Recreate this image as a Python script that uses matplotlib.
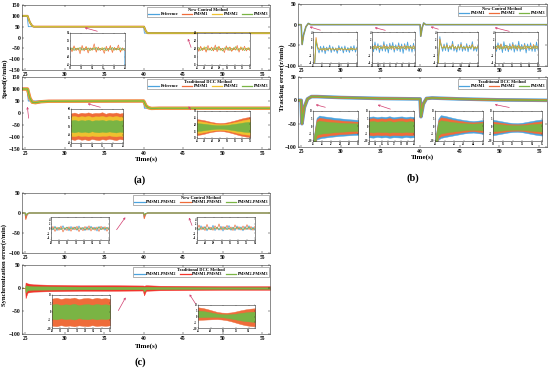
import numpy as np
import matplotlib
matplotlib.use('Agg')
import matplotlib.pyplot as plt

plt.rcParams['font.family'] = ['Liberation Serif', 'DejaVu Serif']
plt.rcParams['font.weight'] = 'bold'

W, H = 550, 374
BLUE = '#4ba3de'
ORANGE = '#ef6c3a'
YELLOW = '#efc12f'
GREEN = '#7ab444'
RED = '#f2352c'
ARROW = '#d23c6e'

# ---------------- main traces ----------------
# (a) speed, new method
a_ref_t = [24.6, 25.25, 25.4, 40.0, 40.1, 56.0]
a_ref_v = [100, 100, 50, 50, 20, 20]
a_new_t = [24.6, 25.3, 25.6, 25.9, 26.1, 40.05, 40.3, 40.5, 56.0]
a_new_v = [100, 100, 70, 53, 50, 50, 28, 20, 20]
# (a) speed, traditional DCC
a_trad_t = [24.6, 25.3, 25.6, 25.9, 26.3, 27.0, 28.0, 40.0, 40.3, 40.6, 41.0, 42.0, 56.0]
a_trad_v = [100, 100, 62, 45, 43, 47, 49, 50, 30, 22, 19, 20, 20]

# (b) tracking error, new method
b_new_t = [24.6, 25.0, 25.12, 25.3, 25.6, 25.9, 26.2, 40.0, 40.08, 40.25, 40.45, 40.7, 56.0]
b_new_v = [0, 0, -48, -25, -5, 3, 0, 0, -28, -8, 4, 0, 0]
# (b) tracking error, traditional DCC
b_trad_t = [24.6, 25.0, 25.1, 25.4, 25.8, 26.3, 27.0, 30, 35, 40.0, 40.1, 40.4, 40.8, 41.5, 45, 50, 56]
b_trad_v = [0, 0, -50, -15, 3, 8, 8, 6, 4, 3, -35, -8, 4, 5, 3, 1, 0]

# (c) synchronization error, new method
c_new_t = [24.6, 25.0, 25.08, 25.25, 25.5, 40.0, 40.08, 40.25, 40.5, 56.0]
c_new_12 = [0, 0, -12, -3, 0, 0, -10, -2, 0, 0]
c_new_13 = [0, 0, -16, -4, 0, 0, -14, -3, 0, 0]
c_new_23 = [0, 0, -6, -1, 0, 0, -5, -1, 0, 0]
# (c) synchronization error, traditional DCC (band envelopes)
c_trad_t = [24.6, 25.0, 25.05, 25.3, 26, 28, 32, 36, 39.9, 40.05, 40.3, 42, 46, 50, 56]
c_trad_red_hi = [0.5, 0.5, 12, 10, 8, 7, 6, 6, 5.5, 5, 6, 5, 4.5, 4, 4]
c_trad_red_lo = [-0.5, -0.5, -22, -10, -8, -7, -6, -6, -5.5, -16, -6, -5, -4.5, -4, -4]
c_trad_grn_hi = [0.3, 0.3, 6, 5, 4, 3.5, 3, 3, 2.8, 2.5, 3, 2.5, 2.2, 2, 2]
c_trad_grn_lo = [-0.3, -0.3, -10, -5, -4, -3.5, -3, -3, -2.8, -8, -3, -2.5, -2.2, -2, -2]

# ---------------- inset data ----------------
# (a) top inset 1 : t 30..40
a_in1_o = [50.4, 49.3, 50.8, 49.6, 50.2, 48.8, 50.9, 49.5, 50.6, 49.0, 50.3, 49.7, 51.3, 49.2, 50.5,
           49.6, 50.1, 48.9, 50.7, 49.4, 50.9, 49.1, 50.4, 49.8, 51.0, 49.2, 50.3, 49.6]
a_in1_y = [50.2, 49.6, 50.5, 49.8, 50.3, 49.4, 50.4, 49.9, 50.6, 49.5, 50.2, 49.7, 50.5, 49.6, 50.3,
           49.9, 50.4, 49.5, 50.2, 49.8, 50.5, 49.6, 50.3, 49.7, 50.4, 49.5, 50.2, 49.8]
a_in1_g = [49.8, 50.3, 49.6, 50.2, 49.9, 50.4, 49.7, 50.1, 49.8, 50.3, 49.6, 50.2, 49.9, 50.4, 49.7,
           50.2, 49.8, 50.3, 49.6, 50.1, 49.9, 50.4, 49.7, 50.2, 49.8, 50.3, 49.7, 50.1]
# (a) top inset 2 : t 46..53
a_in2_o = [20.5, 19.4, 20.7, 19.6, 20.3, 19.2, 20.9, 19.7, 20.4, 19.5, 21.0, 19.3, 20.6, 19.8, 20.2,
           19.1, 20.8, 19.6, 20.5, 19.4, 20.3, 19.7, 20.9, 19.2, 20.4, 19.6, 20.7, 19.5, 20.2, 19.6]
a_in2_y = [20.3, 19.7, 20.4, 19.8, 20.6, 19.5, 20.2, 19.9, 20.5, 19.6, 20.3, 19.8, 20.7, 19.6, 20.2,
           19.7, 20.4, 19.9, 20.5, 19.5, 20.3, 19.8, 20.4, 19.6, 20.6, 19.7, 20.2, 19.8, 20.4, 19.7]
a_in2_g = [19.8, 20.4, 19.6, 20.2, 19.9, 20.5, 19.7, 20.1, 19.6, 20.3, 19.8, 20.5, 19.7, 20.2, 19.5,
           20.3, 19.9, 20.4, 19.6, 20.2, 19.8, 20.6, 19.7, 20.1, 19.9, 20.3, 19.6, 20.2, 19.8, 20.3]
# (a) bottom inset 1 : bands, t 30..40
a_in3_o_hi = [57.4, 57.9, 57.2, 57.8, 57.5, 58.0, 57.3, 57.7, 57.6, 58.1, 57.2, 57.8, 57.5, 57.9, 57.3, 57.7]
a_in3_o_lo = [42.3, 41.8, 42.5, 41.9, 42.2, 41.6, 42.4, 42.0, 41.7, 42.3, 41.9, 42.5, 42.1, 41.7, 42.4, 42.0]
a_in3_y_hi = [55.6, 55.9, 55.4, 55.8, 55.5, 56.0, 55.3, 55.7, 55.6, 55.9, 55.4, 55.8, 55.5, 55.9, 55.4, 55.7]
a_in3_y_lo = [44.2, 44.0, 44.5, 44.1, 44.3, 43.9, 44.4, 44.1, 44.0, 44.3, 44.2, 44.5, 44.1, 43.9, 44.3, 44.1]
a_in3_g_hi = [53.3, 53.6, 53.1, 53.5, 53.2, 53.7, 53.0, 53.4, 53.3, 53.6, 53.1, 53.5, 53.2, 53.6, 53.1, 53.4]
a_in3_g_lo = [46.6, 46.3, 46.8, 46.4, 46.7, 46.2, 46.9, 46.5, 46.3, 46.7, 46.4, 46.8, 46.5, 46.2, 46.7, 46.4]
# (a) bottom inset 2 : bands, t 46..53
a_in4_o_hi = [24.0, 23.6, 23.1, 22.4, 21.8, 21.3, 21.1, 21.2, 21.6, 22.3, 23.0, 23.8, 24.6, 25.2, 25.6]
a_in4_o_lo = [12.2, 12.6, 13.2, 14.0, 14.6, 15.0, 15.2, 15.0, 14.5, 13.8, 13.0, 12.2, 11.5, 11.0, 10.8]
a_in4_y_hi = [22.6, 22.3, 21.9, 21.3, 20.8, 20.4, 20.2, 20.3, 20.6, 21.2, 21.8, 22.4, 23.1, 23.6, 24.0]
a_in4_y_lo = [13.6, 13.9, 14.4, 15.0, 15.5, 15.8, 16.0, 15.9, 15.5, 14.9, 14.2, 13.6, 13.0, 12.6, 12.4]
a_in4_g_hi = [21.0, 20.8, 20.5, 20.1, 19.8, 19.5, 19.4, 19.5, 19.7, 20.1, 20.5, 20.9, 21.4, 21.8, 22.0]
a_in4_g_lo = [15.2, 15.4, 15.8, 16.2, 16.5, 16.8, 16.9, 16.8, 16.5, 16.1, 15.6, 15.2, 14.8, 14.5, 14.3]

# (b) top insets : noisy lines
b_in1_b = [-30, -6.0, 1.5, -0.2, -1.4, 0.3, -1.2, 0.4, -1.6, 0.1, -0.9, 0.6, -1.3, 0.2, -1.0,
           -0.1, -1.5, 0.5, -0.8, 0.2, -1.4, 0.4, -1.1, 0.0, -1.3, 0.3, -0.9, 0.5, -1.2, 0.1]
b_in1_o = [-30, -5.0, 2.6, 0.2, -0.6, -0.3, -0.7, -0.2, -0.8, -0.3, -0.5, -0.1, -0.7, -0.2, -0.6,
           -0.3, -0.8, -0.1, -0.5, -0.3, -0.7, -0.2, -0.6, -0.4, -0.7, -0.1, -0.5, -0.3, -0.6, -0.2]
b_in1_g = [-30, -4.5, 2.0, 0.0, -0.4, -0.6, -0.3, -0.5, -0.2, -0.6, -0.4, -0.3, -0.5, -0.2, -0.6,
           -0.4, -0.3, -0.5, -0.4, -0.2, -0.6, -0.3, -0.5, -0.4, -0.3, -0.6, -0.2, -0.5, -0.4, -0.3]
b_in2_b = [0.9, -1.1, 1.4, -0.7, 1.0, -1.3, 0.6, -0.9, 1.5, -1.0, 0.8, -1.4, 1.1, -0.6, 1.3,
           -1.2, 0.7, -0.8, 1.2, -1.1, 0.9, -1.5, 1.0, -0.7, 1.4, -1.0, 0.6, -1.2, 1.1, -0.9]
b_in2_o = [0.3, -0.4, 0.6, -0.2, 0.4, -0.5, 0.2, -0.3, 0.7, -0.4, 0.3, -0.2, 0.5, -0.3, 0.4,
           -0.6, 0.2, -0.3, 0.5, -0.4, 0.3, -0.2, 0.6, -0.5, 0.4, -0.3, 0.2, -0.4, 0.5, -0.3]
b_in2_g = [-0.2, 0.3, -0.4, 0.2, -0.1, 0.4, -0.3, 0.2, -0.2, 0.3, -0.4, 0.1, -0.3, 0.4, -0.2,
           0.3, -0.1, 0.2, -0.4, 0.3, -0.2, 0.1, -0.3, 0.4, -0.2, 0.3, -0.1, 0.2, -0.3, 0.2]
b_in3_b = [-25, -4.5, 2.8, 0.4, -1.0, 0.9, -0.8, 1.2, -1.1, 0.5, -0.6, 1.6, -0.9, 0.3, -1.2,
           0.8, -0.7, 1.3, -1.0, 0.4, -0.8, 1.0, -1.1, 0.6, -0.5, 1.5, -0.9, 0.2, -1.0, 0.7]
b_in3_o = [-25, -3.5, 2.2, 0.6, -0.3, 0.4, -0.2, 0.7, -0.4, 0.3, -0.1, 0.9, -0.3, 0.2, -0.5,
           0.4, -0.2, 0.8, -0.3, 0.1, -0.4, 0.5, -0.2, 0.3, -0.1, 0.8, -0.4, 0.2, -0.3, 0.4]
b_in3_g = [-25, -3.0, 1.6, 0.3, -0.2, 0.2, -0.3, 0.5, -0.2, 0.1, -0.3, 0.6, -0.1, 0.2, -0.3,
           0.3, -0.2, 0.5, -0.1, 0.2, -0.3, 0.3, -0.2, 0.1, -0.2, 0.6, -0.3, 0.1, -0.2, 0.3]
b_in4_b = [0.8, -1.0, 1.2, -0.6, 0.9, -1.3, 1.5, -0.8, 0.6, -1.1, 1.0, -0.7, 1.3, -1.2, 0.7,
           -0.9, 1.6, -1.0, 0.8, -0.6, 1.1, -1.4, 0.9, -0.8, 1.2, -1.0, 0.6, -1.1, 1.4, -0.7]
b_in4_o = [0.2, -0.5, 0.6, -0.3, 0.9, -0.4, 0.3, -0.2, 0.5, -0.6, 0.4, -0.3, 0.8, -0.2, 0.3,
           -0.5, 0.6, -0.4, 0.2, -0.3, 0.7, -0.5, 0.3, -0.2, 0.5, -0.4, 0.8, -0.3, 0.4, -0.2]
b_in4_g = [-0.3, 0.4, -0.2, 0.5, -0.4, 0.2, -0.3, 0.6, -0.1, 0.3, -0.4, 0.2, -0.2, 0.5, -0.3,
           0.4, -0.2, 0.3, -0.5, 0.2, -0.3, 0.4, -0.1, 0.3, -0.4, 0.2, -0.2, 0.5, -0.3, 0.3]

# (b) bottom insets : band envelopes
b_in5_t = [25.0, 25.2, 25.4, 25.7, 26.0, 26.5, 27.0, 27.5, 28.0, 28.5, 29.0, 29.5, 30.0]
b_in5_b_hi = [-12, -2, 5.5, 7.0, 6.6, 6.2, 5.8, 5.4, 5.1, 4.8, 4.5, 4.3, 4.1]
b_in5_b_lo = [-12, -12, -9.0, -8.4, -8.0, -7.6, -7.2, -6.9, -6.6, -6.4, -6.2, -6.0, -5.9]
b_in5_o_hi = [-12, -3, 4.2, 5.6, 5.2, 4.8, 4.4, 4.0, 3.7, 3.4, 3.2, 3.0, 2.9]
b_in5_o_lo = [-12, -12, -8.0, -7.3, -6.9, -6.5, -6.1, -5.8, -5.5, -5.3, -5.1, -4.9, -4.8]
b_in5_g_hi = [-12, -4, 2.8, 3.6, 3.2, 2.9, 2.6, 2.4, 2.2, 2.0, 1.9, 1.8, 1.7]
b_in5_g_lo = [-12, -12, -6.0, -5.4, -5.0, -4.7, -4.4, -4.1, -3.9, -3.7, -3.5, -3.4, -3.3]
b_in6_b_hi = [6.1, 6.4, 5.9, 6.3, 6.0, 6.5, 5.8, 6.2, 6.4, 5.9, 6.3, 6.0]
b_in6_b_lo = [-7.5, -7.8, -7.3, -7.7, -7.4, -7.9, -7.5, -7.6, -7.8, -7.3, -7.7, -7.5]
b_in6_o_hi = [4.9, 5.2, 4.7, 5.1, 4.8, 5.3, 4.6, 5.0, 5.2, 4.7, 5.1, 4.8]
b_in6_o_lo = [-6.0, -6.3, -5.8, -6.2, -5.9, -6.4, -6.0, -6.1, -6.3, -5.8, -6.2, -6.0]
b_in6_g_hi = [3.0, 3.3, 2.8, 3.2, 2.9, 3.4, 2.7, 3.1, 3.3, 2.8, 3.2, 2.9]
b_in6_g_lo = [-4.0, -4.3, -3.8, -4.2, -3.9, -4.4, -4.0, -4.1, -4.3, -3.8, -4.2, -4.0]
b_in7_t = [40.0, 40.15, 40.35, 40.6, 41.0, 41.5, 42.0, 42.5, 43.0, 43.5, 44.0, 44.5, 45.0]
b_in7_b_hi = [-12, -3, 5.0, 7.2, 6.8, 6.0, 5.2, 4.6, 4.0, 3.6, 3.3, 3.6, 4.0]
b_in7_b_lo = [-12, -12, -9.2, -8.0, -7.4, -6.8, -6.2, -5.6, -5.0, -4.6, -4.4, -4.8, -5.2]
b_in7_o_hi = [-12, -4, 3.8, 5.8, 5.4, 4.7, 4.0, 3.5, 3.0, 2.6, 2.4, 2.7, 3.0]
b_in7_o_lo = [-12, -12, -8.0, -6.8, -6.2, -5.6, -5.0, -4.5, -4.0, -3.6, -3.4, -3.8, -4.1]
b_in7_g_hi = [-12, -5, 2.4, 3.8, 3.4, 2.9, 2.5, 2.2, 1.9, 1.7, 1.6, 1.8, 2.0]
b_in7_g_lo = [-12, -12, -6.2, -5.0, -4.5, -4.0, -3.6, -3.2, -2.9, -2.6, -2.5, -2.8, -3.0]
b_in8_b_hi = [4.2, 3.6, 3.0, 2.4, 2.0, 1.9, 2.2, 2.8, 3.4, 4.0, 4.4]
b_in8_b_lo = [-6.2, -5.6, -5.0, -4.4, -4.0, -3.9, -4.2, -4.8, -5.4, -6.0, -6.4]
b_in8_o_hi = [3.0, 2.5, 2.0, 1.5, 1.2, 1.1, 1.3, 1.8, 2.3, 2.8, 3.2]
b_in8_o_lo = [-5.0, -4.5, -4.0, -3.5, -3.2, -3.1, -3.3, -3.8, -4.3, -4.8, -5.2]
b_in8_g_hi = [1.6, 1.3, 1.0, 0.7, 0.5, 0.5, 0.6, 0.9, 1.2, 1.5, 1.7]
b_in8_g_lo = [-3.6, -3.3, -3.0, -2.7, -2.5, -2.5, -2.6, -2.9, -3.2, -3.5, -3.7]

# (c) top insets : noisy lines
c_in1_b = [0.8, -0.6, 1.0, -0.9, 0.5, -0.4, 1.2, -0.7, 0.6, -1.0, 0.9, -0.5, 0.7, -0.8, 1.1,
           -0.6, 0.4, -0.9, 0.8, -0.7, 1.0, -0.4, 0.6, -1.1, 0.9, -0.5, 0.7, -0.8, 0.5, -0.6]
c_in1_o = [-0.5, 0.9, -1.3, 0.6, -0.8, 1.1, -1.5, 0.4, -0.9, 0.8, -1.2, 0.7, -0.6, 1.0, -1.4,
           0.5, -1.0, 0.9, -0.7, 1.2, -1.1, 0.6, -0.8, 0.7, -1.3, 1.0, -0.5, 0.8, -1.2, 0.6]
c_in1_g = [0.2, -0.4, 0.5, -0.3, 0.4, -0.5, 0.3, -0.2, 0.6, -0.4, 0.2, -0.3, 0.5, -0.5, 0.3,
           -0.2, 0.4, -0.6, 0.3, -0.3, 0.5, -0.4, 0.2, -0.3, 0.6, -0.5, 0.3, -0.2, 0.4, -0.4]
c_in2_b = [0.6, -0.8, 1.2, -0.5, 0.9, -1.0, 0.7, -0.6, 1.4, -0.9, 0.5, -0.7, 1.0, -1.1, 0.8,
           -0.4, 1.3, -0.8, 0.6, -0.9, 1.1, -0.6, 0.7, -1.0, 0.9, -0.5, 1.2, -0.7, 0.6, -0.8]
c_in2_o = [-0.4, 1.5, -0.6, 0.8, -0.9, 1.8, -0.5, 0.6, -0.8, 1.2, -0.4, 2.0, -0.7, 0.9, -0.6,
           1.4, -0.5, 0.7, -0.9, 1.6, -0.4, 0.8, -0.7, 1.1, -0.6, 1.7, -0.5, 0.9, -0.8, 1.0]
c_in2_g = [0.3, -0.5, 0.4, -0.3, 0.5, -0.4, 0.2, -0.5, 0.4, -0.2, 0.6, -0.4, 0.3, -0.3, 0.5,
           -0.5, 0.2, -0.4, 0.4, -0.3, 0.5, -0.2, 0.3, -0.5, 0.4, -0.3, 0.6, -0.4, 0.2, -0.3]
# (c) bottom insets : band envelopes
c_in3_o_hi = [7.8, 8.3, 7.6, 8.1, 7.9, 8.4, 7.5, 8.0, 8.2, 7.7, 8.3, 7.8, 8.1, 7.6]
c_in3_o_lo = [-8.6, -8.9, -8.3, -8.8, -8.5, -9.0, -8.4, -8.7, -8.9, -8.3, -8.8, -8.5, -8.7, -8.4]
c_in3_g_hi = [4.2, 4.6, 3.9, 4.4, 4.1, 4.7, 3.8, 4.3, 4.5, 4.0, 4.6, 4.1, 4.4, 3.9]
c_in3_g_lo = [-4.4, -4.8, -4.1, -4.6, -4.3, -4.9, -4.0, -4.5, -4.7, -4.2, -4.8, -4.3, -4.6, -4.1]
c_in4_o_hi = [8.0, 7.4, 6.4, 5.2, 4.0, 3.4, 3.2, 3.6, 4.4, 5.4, 6.2, 6.8, 7.2]
c_in4_o_lo = [-3.0, -2.8, -2.6, -2.4, -2.3, -2.6, -3.2, -4.2, -5.4, -6.6, -7.6, -8.2, -8.6]
c_in4_g_hi = [5.2, 4.8, 4.1, 3.3, 2.5, 2.0, 1.8, 2.0, 2.5, 3.1, 3.6, 4.0, 4.2]
c_in4_g_lo = [-0.6, -0.5, -0.4, -0.3, -0.3, -0.6, -1.1, -1.8, -2.6, -3.4, -4.0, -4.4, -4.7]

# ---------------- helpers ----------------
fig = plt.figure(figsize=(5.5, 3.74), dpi=100)


def px_axes(x0, y0, x1, y1):
    return fig.add_axes([x0 / W, 1 - y1 / H, (x1 - x0) / W, (y1 - y0) / H])


def style_main(ax, ylim, yticks):
    ax.set_xlim(24.6, 56)
    ax.set_ylim(*ylim)
    ax.set_xticks([25, 30, 35, 40, 45, 50, 55])
    ax.set_yticks(yticks)
    ax.tick_params(direction='in', top=True, right=True, labelsize=4.0,
                   length=1.5, width=0.3, pad=1.2)
    for s in ax.spines.values():
        s.set_linewidth(0.4)
        s.set_color('#333333')


def style_inset(ax, xlim, ylim):
    ax.set_xlim(*xlim)
    ax.set_ylim(*ylim)
    ax.locator_params(axis='x', nbins=7)
    ax.locator_params(axis='y', nbins=5)
    ax.tick_params(direction='in', top=True, right=True, labelsize=2.0,
                   length=0.8, width=0.2, pad=0.5)
    for s in ax.spines.values():
        s.set_linewidth(0.4)
        s.set_color('#333333')


def add_legend(ax, title, labels, colors, ncol):
    hs = [plt.Line2D([], [], color=c, lw=0.9) for c in colors]
    lg = ax.legend(hs, labels, title=title, ncol=ncol, loc='upper right',
                   bbox_to_anchor=(1.0, 0.985), fontsize=3.0, title_fontsize=3.2,
                   frameon=True, fancybox=False, edgecolor='#555555',
                   borderpad=0.25, handlelength=2.6, handletextpad=0.3,
                   columnspacing=0.8, labelspacing=0.1, borderaxespad=0.2)
    lg.get_frame().set_linewidth(0.4)
    lg.get_title().set_fontweight('bold')


def bands(ax, t, pairs):
    for (lo, hi), c in pairs:
        ax.fill_between(t, lo, hi, color=c, lw=0.3, edgecolor=c)


# ---------------- (a) speed ----------------
ax = px_axes(22, 5, 270, 70)
ax.plot(a_new_t, a_new_v, color=ORANGE, lw=1.4)
ax.plot(a_new_t, a_new_v, color=GREEN, lw=1.0)
ax.plot(a_new_t, a_new_v, color=YELLOW, lw=0.6)
ax.plot(a_ref_t, a_ref_v, color=BLUE, lw=0.6, zorder=1)
style_main(ax, (-150, 150), [-150, -100, -50, 0, 50, 100, 150])
add_legend(ax, 'New Control Method', ['Reference', 'PMSM1', 'PMSM2', 'PMSM3'],
           [BLUE, ORANGE, YELLOW, GREEN], 4)

ax = px_axes(22, 77, 270, 149)
ax.plot(a_ref_t, a_ref_v, color=BLUE, lw=0.7)
ax.plot(a_trad_t, a_trad_v, color=ORANGE, lw=2.4)
ax.plot(a_trad_t, a_trad_v, color=YELLOW, lw=1.7)
ax.plot(a_trad_t, a_trad_v, color=GREEN, lw=1.0)
style_main(ax, (-150, 150), [-150, -100, -50, 0, 50, 100, 150])
add_legend(ax, 'Traditional DCC Method', ['Reference', 'PMSM1', 'PMSM2', 'PMSM3'],
           [BLUE, ORANGE, YELLOW, GREEN], 4)

ia = px_axes(70, 33, 125, 65)
t = np.linspace(30, 39.9, len(a_in1_o))
ia.plot([30, 39.95, 40], [50, 50, 20], color=BLUE, lw=0.5)
ia.plot(t, a_in1_y, color=YELLOW, lw=0.45)
ia.plot(t, a_in1_o, color=ORANGE, lw=0.45)
ia.plot(t, a_in1_g, color=GREEN, lw=0.45)
style_inset(ia, (30, 40), (46, 54))

ia = px_axes(197, 33, 250, 65)
t = np.linspace(46, 53, len(a_in2_o))
ia.plot(t, a_in2_y, color=YELLOW, lw=0.45)
ia.plot(t, a_in2_o, color=ORANGE, lw=0.45)
ia.plot(t, a_in2_g, color=GREEN, lw=0.45)
style_inset(ia, (46, 53), (16, 24))

ia = px_axes(71, 109, 123, 143)
t = np.linspace(30, 40, len(a_in3_o_hi))
bands(ia, t, [((a_in3_o_lo, a_in3_o_hi), ORANGE), ((a_in3_y_lo, a_in3_y_hi), YELLOW),
              ((a_in3_g_lo, a_in3_g_hi), GREEN)])
style_inset(ia, (30, 40), (40, 60))

ia = px_axes(197, 111, 250, 138)
t = np.linspace(46, 53, len(a_in4_o_hi))
bands(ia, t, [((a_in4_o_lo, a_in4_o_hi), ORANGE), ((a_in4_y_lo, a_in4_y_hi), YELLOW),
              ((a_in4_g_lo, a_in4_g_hi), GREEN)])
style_inset(ia, (46, 53), (10, 30))

# ---------------- (b) tracking error ----------------
ax = px_axes(298, 4, 547, 66)
ax.plot(b_new_t, b_new_v, color=BLUE, lw=1.2)
ax.plot(b_new_t, b_new_v, color=ORANGE, lw=0.7)
ax.plot(b_new_t, b_new_v, color=GREEN, lw=0.5)
style_main(ax, (-100, 50), [-100, -50, 0, 50])
add_legend(ax, 'New Control Method', ['PMSM1', 'PMSM2', 'PMSM3'], [BLUE, ORANGE, GREEN], 3)

ax = px_axes(298, 77, 547, 147)
ax.plot(b_trad_t, b_trad_v, color=BLUE, lw=2.6)
ax.plot(b_trad_t, b_trad_v, color=ORANGE, lw=1.8)
ax.plot(b_trad_t, b_trad_v, color=GREEN, lw=1.1)
style_main(ax, (-100, 50), [-100, -50, 0, 50])
add_legend(ax, 'Traditional DCC Method', ['PMSM1', 'PMSM2', 'PMSM3'], [BLUE, ORANGE, GREEN], 3)

for box, xl, sb, so, sg in [((313, 32, 357, 63), (25, 30), b_in1_b, b_in1_o, b_in1_g),
                            ((372, 32, 415, 63), (33, 40), b_in2_b, b_in2_o, b_in2_g),
                            ((437, 32, 478, 63), (40, 45), b_in3_b, b_in3_o, b_in3_g),
                            ((495, 32, 538, 63), (50, 55), b_in4_b, b_in4_o, b_in4_g)]:
    ia = px_axes(*box)
    t = np.linspace(xl[0], xl[1], len(sb))
    ia.plot(t, sb, color=BLUE, lw=0.6)
    ia.plot(t, so, color=ORANGE, lw=0.45)
    ia.plot(t, sg, color=GREEN, lw=0.45)
    ia.plot(t, so, color=YELLOW, lw=0.25)
    style_inset(ia, xl, (-4, 4))

for box, xl, t, d in [((313, 111, 358, 141), (25, 30), b_in5_t,
                       [b_in5_b_lo, b_in5_b_hi, b_in5_o_lo, b_in5_o_hi, b_in5_g_lo, b_in5_g_hi]),
                      ((369, 111, 414, 141), (33, 40), None,
                       [b_in6_b_lo, b_in6_b_hi, b_in6_o_lo, b_in6_o_hi, b_in6_g_lo, b_in6_g_hi]),
                      ((435, 111, 483, 141), (40, 45), b_in7_t,
                       [b_in7_b_lo, b_in7_b_hi, b_in7_o_lo, b_in7_o_hi, b_in7_g_lo, b_in7_g_hi]),
                      ((493, 111, 542, 141), (50, 55), None,
                       [b_in8_b_lo, b_in8_b_hi, b_in8_o_lo, b_in8_o_hi, b_in8_g_lo, b_in8_g_hi])]:
    ia = px_axes(*box)
    if t is None:
        t = np.linspace(xl[0], xl[1], len(d[0]))
    bands(ia, t, [((d[0], d[1]), BLUE), ((d[2], d[3]), ORANGE), ((d[4], d[5]), GREEN)])
    style_inset(ia, xl, (-10, 10))

# ---------------- (c) synchronization error ----------------
ax = px_axes(22, 193, 270, 253)
ax.plot(c_new_t, c_new_12, color=BLUE, lw=0.9)
ax.plot(c_new_t, c_new_13, color=ORANGE, lw=0.7)
ax.plot(c_new_t, c_new_23, color=GREEN, lw=0.6)
style_main(ax, (-100, 50), [-100, -50, 0, 50])
add_legend(ax, 'New Control Method', ['PMSM1-PMSM2', 'PMSM1-PMSM3', 'PMSM2-PMSM3'],
           [BLUE, ORANGE, GREEN], 3)

ax = px_axes(22, 265, 270, 334)
ax.fill_between(c_trad_t, c_trad_red_lo, c_trad_red_hi, color=RED, lw=0.3)
ax.fill_between(c_trad_t, c_trad_grn_lo, c_trad_grn_hi, color=GREEN, lw=0.2)
style_main(ax, (-100, 50), [-100, -50, 0, 50])
add_legend(ax, 'Traditional DCC Method', ['PMSM1-PMSM2', 'PMSM1-PMSM3', 'PMSM2-PMSM3'],
           [BLUE, RED, GREEN], 3)

for box, xl, sb, so, sg in [((51, 217, 109, 240), (29, 36), c_in1_b, c_in1_o, c_in1_g),
                            ((197, 217, 255, 240), (47, 54), c_in2_b, c_in2_o, c_in2_g)]:
    ia = px_axes(*box)
    t = np.linspace(xl[0], xl[1], len(sb))
    ia.plot(t, sb, color=BLUE, lw=0.5)
    ia.plot(t, so, color=ORANGE, lw=0.45)
    ia.plot(t, sg, color=GREEN, lw=0.45)
    style_inset(ia, xl, (-5, 5))

for box, xl, d in [((52, 295, 110, 328), (29, 36), [c_in3_o_lo, c_in3_o_hi, c_in3_g_lo, c_in3_g_hi]),
                   ((198, 305, 255, 328), (46, 55), [c_in4_o_lo, c_in4_o_hi, c_in4_g_lo, c_in4_g_hi])]:
    ia = px_axes(*box)
    t = np.linspace(xl[0], xl[1], len(d[0]))
    bands(ia, t, [((d[0], d[1]), ORANGE), ((d[2], d[3]), GREEN)])
    style_inset(ia, xl, (-10, 10))

# ---------------- arrows and labels ----------------
ov = fig.add_axes([0, 0, 1, 1], zorder=10)
ov.set_xlim(0, W)
ov.set_ylim(H, 0)
ov.axis('off')
ov.patch.set_alpha(0)
arrows = [((100, 32), (82, 27)), ((192, 50), (187, 36)),
          ((29, 121), (27, 104)), ((103, 108), (85, 103)), ((192, 112), (187, 104)),
          ((323, 31), (307, 26)), ((388, 31), (372, 27)), ((441, 30), (428, 26)), ((512, 32), (492, 27)),
          ((328, 108), (313, 104)), ((393, 110), (375, 104)), ((512, 108), (492, 104)),
          ((115, 232), (127, 215)), ((193, 228), (188, 215)),
          ((117, 313), (127, 295)), ((197, 306), (188, 292))]
for tail, head in arrows:
    ov.annotate('', xy=head, xytext=tail,
                arrowprops=dict(arrowstyle='->', color=ARROW, lw=0.5, mutation_scale=3))

fig.text(5 / W, 1 - 78 / H, 'Speed(r/min)', rotation=90, ha='center', va='center', fontsize=5)
fig.text(282 / W, 1 - 78 / H, 'Tracking error(r/min)', rotation=90, ha='center', va='center', fontsize=5)
fig.text(4.5 / W, 1 - 265 / H, 'Synchronization error(r/min)', rotation=90, ha='center', va='center',
         fontsize=4.7)
fig.text(146 / W, 1 - 159 / H, 'Time(s)', ha='center', va='center', fontsize=5)
fig.text(422 / W, 1 - 157 / H, 'Time(s)', ha='center', va='center', fontsize=5)
fig.text(146 / W, 1 - 346 / H, 'Time(s)', ha='center', va='center', fontsize=5)
fig.text(140 / W, 1 - 180 / H, '(a)', ha='center', va='center', fontsize=7.5)
fig.text(413 / W, 1 - 178 / H, '(b)', ha='center', va='center', fontsize=7.5)
fig.text(140 / W, 1 - 362 / H, '(c)', ha='center', va='center', fontsize=7.5)

fig.savefig('out.png', dpi=100)
